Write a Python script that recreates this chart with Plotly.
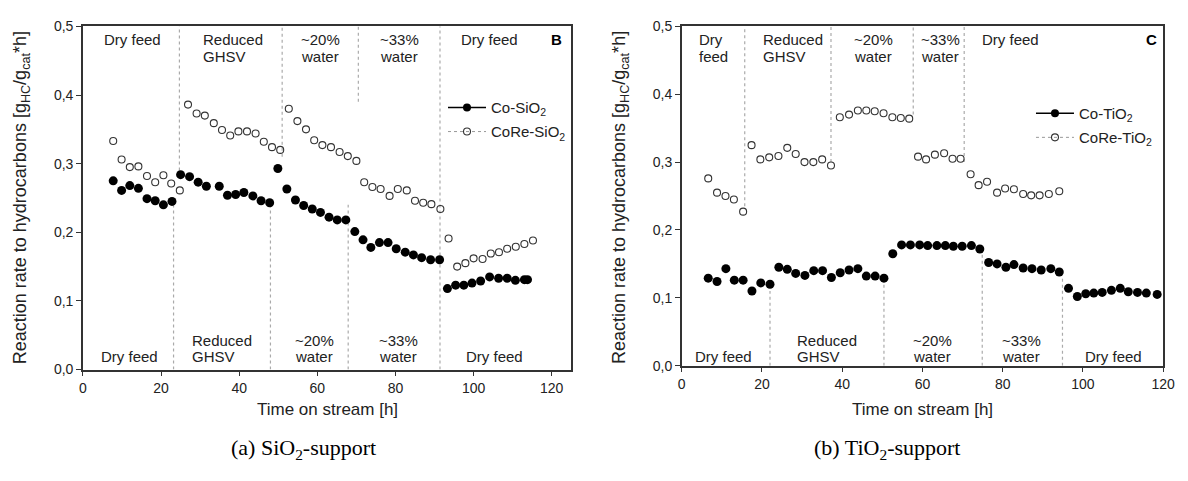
import plotly.graph_objects as go

# ---------------- data: SiO2 support (panel B) ----------------
co_sio2_t = [7.75, 9.9, 12.0, 14.2, 16.4, 18.5, 20.6, 22.8, 25.0, 27.3, 29.5, 31.6, 34.9, 37.0,
             39.1, 41.2, 43.5, 45.6, 47.8, 49.9, 52.2, 54.4, 56.5, 58.7, 60.8, 63.0, 65.1, 67.3,
             69.6, 71.7, 73.7, 75.9, 78.1, 80.2, 82.5, 84.6, 86.7, 89.0, 91.3, 93.3, 95.4, 97.5,
             99.6, 101.8, 104.1, 106.4, 108.6, 110.7, 113.0, 113.8]
co_sio2_r = [0.275, 0.261, 0.268, 0.264, 0.249, 0.246, 0.240, 0.245, 0.284, 0.281, 0.273, 0.267,
             0.267, 0.254, 0.255, 0.258, 0.253, 0.246, 0.243, 0.293, 0.263, 0.247, 0.239, 0.234,
             0.229, 0.222, 0.218, 0.218, 0.201, 0.189, 0.178, 0.185, 0.185, 0.176, 0.171, 0.167,
             0.163, 0.160, 0.160, 0.118, 0.123, 0.123, 0.126, 0.129, 0.135, 0.133, 0.133, 0.130,
             0.131, 0.131]
core_sio2_t = [7.75, 9.9, 12.0, 14.2, 16.4, 18.5, 20.6, 22.6, 24.8, 26.9, 29.1, 31.2, 33.5, 35.6,
               37.7, 39.8, 42.0, 44.2, 46.3, 48.4, 50.5, 52.7, 54.9, 57.1, 59.2, 61.3, 63.5, 65.7,
               67.8, 70.0, 72.0, 74.1, 76.2, 78.5, 80.6, 82.9, 85.0, 87.1, 89.2, 91.5, 93.6, 95.8,
               97.9, 100.0, 102.3, 104.4, 106.5, 108.6, 110.8, 113.0, 115.2]
core_sio2_r = [0.333, 0.306, 0.295, 0.296, 0.282, 0.273, 0.283, 0.271, 0.261, 0.386, 0.373, 0.370,
               0.359, 0.349, 0.341, 0.347, 0.347, 0.344, 0.332, 0.324, 0.320, 0.380, 0.362, 0.350,
               0.334, 0.327, 0.324, 0.317, 0.311, 0.304, 0.273, 0.266, 0.263, 0.253, 0.263, 0.261,
               0.246, 0.243, 0.241, 0.234, 0.191, 0.150, 0.155, 0.162, 0.161, 0.169, 0.171, 0.176,
               0.179, 0.183, 0.188]

# ---------------- data: TiO2 support (panel C) ----------------
co_tio2_t = [6.6, 8.8, 11.0, 13.1, 15.3, 17.5, 19.7, 22.0, 24.2, 26.3, 28.4, 30.7, 32.9, 35.1,
             37.3, 39.5, 41.7, 43.9, 46.0, 48.2, 50.4, 52.6, 54.8, 57.0, 59.3, 61.3, 63.6, 65.7,
             67.7, 69.9, 72.2, 74.3, 76.5, 78.6, 80.8, 82.8, 85.1, 87.3, 89.6, 92.0, 94.1, 96.4,
             98.6, 100.7, 102.7, 104.8, 107.1, 109.3, 111.3, 113.6, 115.8, 118.5]
co_tio2_r = [0.129, 0.124, 0.143, 0.126, 0.126, 0.110, 0.122, 0.120, 0.145, 0.142, 0.136, 0.133,
             0.140, 0.140, 0.130, 0.137, 0.141, 0.143, 0.132, 0.132, 0.129, 0.165, 0.178, 0.178,
             0.178, 0.177, 0.177, 0.177, 0.176, 0.176, 0.177, 0.172, 0.152, 0.150, 0.145, 0.149,
             0.144, 0.143, 0.141, 0.143, 0.138, 0.114, 0.102, 0.106, 0.107, 0.108, 0.111, 0.114,
             0.109, 0.108, 0.107, 0.105]
core_tio2_t = [6.6, 8.8, 10.9, 13.0, 15.3, 17.4, 19.6, 21.8, 24.1, 26.3, 28.4, 30.6, 32.8, 35.0,
               37.2, 39.4, 41.7, 43.9, 46.0, 48.1, 50.3, 52.5, 54.6, 56.7, 58.9, 60.9, 63.1, 65.4,
               67.5, 69.5, 72.0, 74.0, 76.1, 78.6, 80.6, 82.8, 85.1, 87.1, 89.2, 91.5, 94.1]
core_tio2_r = [0.276, 0.255, 0.250, 0.245, 0.227, 0.325, 0.304, 0.307, 0.309, 0.321, 0.312, 0.300,
               0.300, 0.304, 0.295, 0.366, 0.370, 0.376, 0.376, 0.375, 0.372, 0.366, 0.365, 0.364,
               0.308, 0.304, 0.311, 0.313, 0.305, 0.305, 0.282, 0.266, 0.271, 0.255, 0.261, 0.260,
               0.253, 0.251, 0.251, 0.253, 0.257]

# ---------------- regime dividers (x, y_from, y_to) ----------------
sio2_div_x = [24.7, 51.0, 70.5, 91.4, 23.2, 48.0, 67.9]
sio2_div_y0 = [0.29, 0.31, 0.39, 0.0, 0.0, 0.0, 0.0]
sio2_div_y1 = [0.5, 0.5, 0.5, 0.5, 0.245, 0.24, 0.24]
tio2_div_x = [15.7, 37.2, 57.7, 70.4, 22.0, 50.4, 74.9, 94.9]
tio2_div_y0 = [0.235, 0.30, 0.37, 0.30, 0.0, 0.0, 0.0, 0.0]
tio2_div_y1 = [0.5, 0.5, 0.5, 0.5, 0.11, 0.12, 0.165, 0.13]

# ---------------- regime labels ----------------
sio2_top_x = [4.8, 30.3, 55.3, 75.5, 96.2]
sio2_top_text = ["Dry feed", "Reduced<br>GHSV", "~20%<br>water", "~33%<br>water", "Dry feed"]
sio2_bot_x = [4.0, 27.3, 53.9, 75.3, 97.5]
sio2_bot_text = ["Dry feed", "Reduced<br>GHSV", "~20%<br>water", "~33%<br>water", "Dry feed"]
tio2_top_x = [3.9, 19.7, 42.5, 59.2, 74.4]
tio2_top_text = ["Dry<br>feed", "Reduced<br>GHSV", "~20%<br>water", "~33%<br>water", "Dry feed"]
tio2_bot_x = [2.7, 28.3, 57.2, 79.4, 100.0]
tio2_bot_text = ["Dry feed", "Reduced<br>GHSV", "~20%<br>water", "~33%<br>water", "Dry feed"]

x_ticks = [0, 20, 40, 60, 80, 100, 120]
y_ticks = [0.0, 0.1, 0.2, 0.3, 0.4, 0.5]

W, H = 1188, 481
FONT = "Liberation Sans, Arial, Helvetica, sans-serif"
TXT = "#222222"
AX = "#333333"


def py(p):
    return 1 - p / H


def px(p):
    return p / W


fig = go.Figure()

filled = dict(symbol="circle", size=9, color="black", line=dict(width=0))
hollow = dict(symbol="circle-open", size=7, color="#333333", line=dict(width=1.1))

fig.add_trace(go.Scatter(x=co_sio2_t, y=co_sio2_r, mode="markers", marker=filled,
                         xaxis="x", yaxis="y", showlegend=False, cliponaxis=False))
fig.add_trace(go.Scatter(x=core_sio2_t, y=core_sio2_r, mode="markers", marker=hollow,
                         xaxis="x", yaxis="y", showlegend=False, cliponaxis=False))
fig.add_trace(go.Scatter(x=co_tio2_t, y=co_tio2_r, mode="markers", marker=filled,
                         xaxis="x2", yaxis="y2", showlegend=False, cliponaxis=False))
fig.add_trace(go.Scatter(x=core_tio2_t, y=core_tio2_r, mode="markers", marker=hollow,
                         xaxis="x2", yaxis="y2", showlegend=False, cliponaxis=False))

# legend entries (one legend box per entry, for exact row placement)
solid_line = dict(color="black", width=1.5)
dot_line = dict(color="#999999", width=1, dash="dot")
leg_filled = dict(symbol="circle", size=8, color="black")
leg_hollow = dict(symbol="circle-open", size=7, color="#333333", line=dict(width=1.1))
for name, mk, ln, xa, ya, lg in [("Co-SiO<sub>2</sub>", leg_filled, solid_line, "x", "y", "legend"),
                                 ("CoRe-SiO<sub>2</sub>", leg_hollow, dot_line, "x", "y", "legend2"),
                                 ("Co-TiO<sub>2</sub>", leg_filled, solid_line, "x2", "y2", "legend3"),
                                 ("CoRe-TiO<sub>2</sub>", leg_hollow, dot_line, "x2", "y2", "legend4")]:
    fig.add_trace(go.Scatter(x=[None], y=[None], mode="lines+markers", name=name, marker=mk,
                             line=ln, xaxis=xa, yaxis=ya, legend=lg))

shapes = []
for xs, y0s, y1s, xr, yr in [(sio2_div_x, sio2_div_y0, sio2_div_y1, "x", "y"),
                             (tio2_div_x, tio2_div_y0, tio2_div_y1, "x2", "y2")]:
    for xv, a, b in zip(xs, y0s, y1s):
        shapes.append(dict(type="line", xref=xr, yref=yr, x0=xv, x1=xv, y0=a, y1=b,
                           line=dict(color="#aaaaaa", width=1.2, dash="dot"), layer="below"))

ann = []
lab_font = dict(family=FONT, size=15, color=TXT)
# top labels: line centres at 33 px and 50 px
for xs, texts, xr in [(sio2_top_x, sio2_top_text, "x"), (tio2_top_x, tio2_top_text, "x2")]:
    for xv, t in zip(xs, texts):
        for i, line in enumerate(t.split("<br>")):
            ann.append(dict(x=xv, y=py(33 + 17 * i), xref=xr, yref="paper", text=line,
                            showarrow=False, xanchor="left", yanchor="middle", font=lab_font))
# bottom labels: last line centre at 361 px
for xs, texts, xr in [(sio2_bot_x, sio2_bot_text, "x"), (tio2_bot_x, tio2_bot_text, "x2")]:
    for xv, t in zip(xs, texts):
        lines = t.split("<br>")
        n = len(lines)
        for i, line in enumerate(lines):
            ann.append(dict(x=xv, y=py(361 - 17 * (n - 1 - i)), xref=xr, yref="paper", text=line,
                            showarrow=False, xanchor="left", yanchor="middle", font=lab_font))

ann.append(dict(x=121.2, y=py(33), xref="x", yref="paper", text="<b>B</b>", showarrow=False,
                xanchor="center", yanchor="middle", font=dict(family=FONT, size=15, color="black")))
ann.append(dict(x=117.0, y=py(33), xref="x2", yref="paper", text="<b>C</b>", showarrow=False,
                xanchor="center", yanchor="middle", font=dict(family=FONT, size=15, color="black")))

ytitle = "Reaction rate to hydrocarbons [g<sub>HC</sub>/g<sub>cat</sub>*h]"
for xp in [18, 625]:
    ann.append(dict(x=px(xp), y=py(196), xref="paper", yref="paper", text=ytitle, textangle=-90,
                    showarrow=False, xanchor="center", yanchor="middle",
                    font=dict(family=FONT, size=18, color=TXT)))
for xp in [(80 + 575) / 2, (687 + 1175) / 2]:
    ann.append(dict(x=px(xp), y=py(415), xref="paper", yref="paper", text="Time on stream [h]",
                    showarrow=False, xanchor="center", yanchor="middle",
                    font=dict(family=FONT, size=17, color=TXT)))
cap_font = dict(family="Liberation Serif, DejaVu Serif, serif", size=22, color="black")
ann.append(dict(x=px(304), y=py(456), xref="paper", yref="paper",
                text="(a) SiO<sub>2</sub>-support", showarrow=False, xanchor="center",
                yanchor="middle", font=cap_font))
ann.append(dict(x=px(895), y=py(456), xref="paper", yref="paper",
                text="(b) TiO<sub>2</sub>-support", showarrow=False, xanchor="center",
                yanchor="middle", font=cap_font))

axis_common = dict(showline=True, mirror=True, linecolor=AX, linewidth=1.5, ticks="outside",
                   ticklen=5, tickwidth=1.2, tickcolor=AX, showgrid=False, zeroline=False,
                   tickfont=dict(family=FONT, size=14, color=TXT), fixedrange=True)

leg_common = dict(xanchor="left", yanchor="top", bgcolor="rgba(0,0,0,0)",
                  font=dict(family=FONT, size=15, color=TXT), itemwidth=38)

fig.update_layout(
    width=W, height=H, margin=dict(l=0, r=0, t=0, b=0),
    paper_bgcolor="white", plot_bgcolor="white",
    separators=",.",
    xaxis=dict(domain=[px(80), px(575)], range=[0, 125], tickvals=x_ticks, anchor="y", **axis_common),
    yaxis=dict(domain=[py(374), py(19)], range=[0, 0.5], tickvals=y_ticks,
               tickformat=".1f", anchor="x", **axis_common),
    xaxis2=dict(domain=[px(687), px(1175)], range=[0, 120], tickvals=x_ticks, anchor="y2", **axis_common),
    yaxis2=dict(domain=[py(370), py(19)], range=[0, 0.5], tickvals=y_ticks,
                tickformat=".1f", anchor="x2", **axis_common),
    legend=dict(x=px(445), y=py(86), **leg_common),
    legend2=dict(x=px(445), y=py(111), **leg_common),
    legend3=dict(x=px(1041), y=py(92), **leg_common),
    legend4=dict(x=px(1041), y=py(117), **leg_common),
    shapes=shapes, annotations=ann,
)

fig.write_html("out.html")
